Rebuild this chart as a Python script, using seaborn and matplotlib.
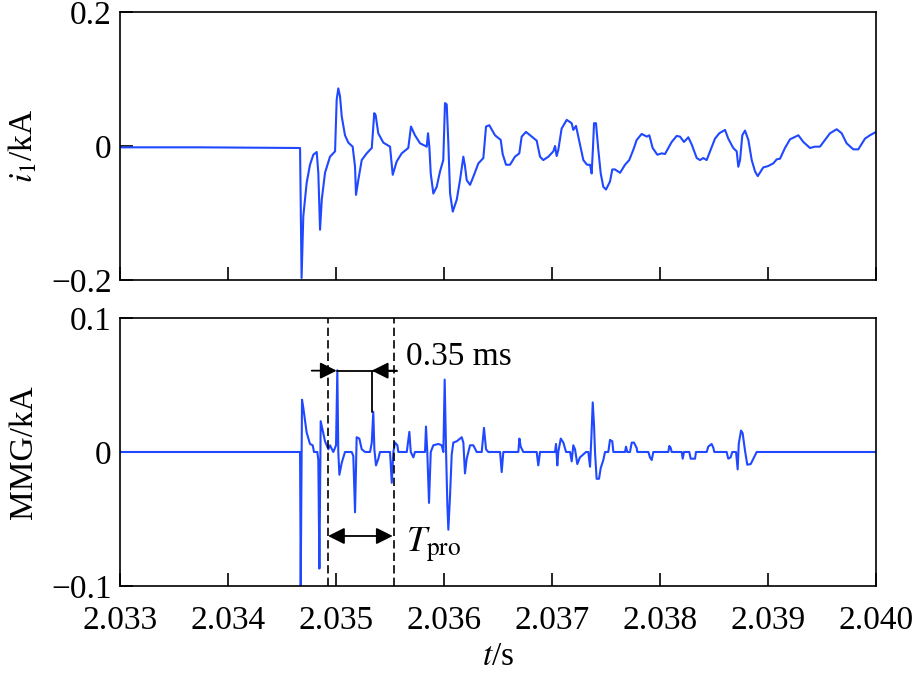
import numpy as np
import pandas as pd
import matplotlib
matplotlib.use("Agg")
import matplotlib.pyplot as plt
import seaborn as sns

# ---------------- data ----------------
t_i1 = [2.033000, 2.033741, 2.034667, 2.034681, 2.034697, 2.034728, 2.034759, 2.034790,
        2.034821, 2.034836, 2.034852, 2.034868, 2.034898, 2.034944, 2.034991, 2.035006,
        2.035021, 2.035037, 2.035053, 2.035083, 2.035114, 2.035154, 2.035176, 2.035185,
        2.035206, 2.035238, 2.035284, 2.035331, 2.035354, 2.035367, 2.035391, 2.035438,
        2.035500, 2.035525, 2.035562, 2.035608, 2.035669, 2.035694, 2.035731, 2.035778,
        2.035840, 2.035852, 2.035864, 2.035877, 2.035901, 2.035932, 2.035963, 2.035993,
        2.036009, 2.036025, 2.036040, 2.036056, 2.036081, 2.036118, 2.036148, 2.036179,
        2.036194, 2.036210, 2.036241, 2.036271, 2.036318, 2.036364, 2.036389, 2.036419,
        2.036472, 2.036525, 2.036543, 2.036574, 2.036611, 2.036657, 2.036697, 2.036719,
        2.036759, 2.036812, 2.036858, 2.036889, 2.036919, 2.036966, 2.037012, 2.037028,
        2.037043, 2.037058, 2.037089, 2.037136, 2.037182, 2.037197, 2.037222, 2.037259,
        2.037290, 2.037324, 2.037352, 2.037367, 2.037380, 2.037389, 2.037407, 2.037429,
        2.037451, 2.037475, 2.037500, 2.037537, 2.037558, 2.037583, 2.037630, 2.037676,
        2.037715, 2.037752, 2.037784, 2.037830, 2.037877, 2.037901, 2.037932, 2.037975,
        2.038016, 2.038046, 2.038108, 2.038154, 2.038185, 2.038222, 2.038262, 2.038294,
        2.038340, 2.038370, 2.038401, 2.038432, 2.038463, 2.038509, 2.038549, 2.038602,
        2.038632, 2.038678, 2.038710, 2.038725, 2.038741, 2.038762, 2.038787, 2.038818,
        2.038849, 2.038880, 2.038905, 2.038956, 2.039000, 2.039049, 2.039080, 2.039111,
        2.039157, 2.039204, 2.039281, 2.039327, 2.039389, 2.039435, 2.039481, 2.039528,
        2.039574, 2.039636, 2.039682, 2.039728, 2.039790, 2.039836, 2.039898, 2.039944,
        2.040000]
i1 = [-0.002, -0.002, -0.003, -0.197, -0.105, -0.055, -0.028, -0.013,
      -0.009, -0.040, -0.125, -0.080, -0.040, -0.016, -0.008, 0.069,
      0.086, 0.074, 0.044, 0.016, 0.005, -0.001, -0.031, -0.073,
      -0.051, -0.021, -0.011, -0.003, 0.049, 0.046, 0.019, 0.005,
      -0.001, -0.043, -0.023, -0.011, -0.003, 0.029, 0.016, 0.004,
      -0.001, 0.019, -0.001, -0.041, -0.071, -0.061, -0.038, -0.021,
      0.064, 0.062, 0.004, -0.071, -0.098, -0.080, -0.051, -0.016,
      -0.030, -0.051, -0.058, -0.046, -0.026, -0.018, 0.029, 0.031,
      0.016, 0.009, -0.012, -0.028, -0.028, -0.016, -0.011, 0.014,
      0.021, 0.014, 0.008, -0.016, -0.021, -0.016, -0.008, 0.000,
      -0.015, -0.006, 0.026, 0.039, 0.034, 0.024, 0.030, 0.002,
      -0.021, -0.028, -0.028, -0.041, 0.000, 0.034, 0.034, -0.006,
      -0.041, -0.061, -0.065, -0.053, -0.035, -0.035, -0.040, -0.028,
      -0.021, -0.006, 0.009, 0.018, 0.014, 0.016, -0.003, -0.013,
      -0.011, -0.012, 0.006, 0.015, 0.014, 0.006, 0.013, 0.002,
      -0.018, -0.021, -0.018, -0.021, -0.008, 0.011, 0.019, 0.024,
      0.011, -0.003, -0.008, -0.031, -0.021, 0.016, 0.023, 0.009,
      -0.021, -0.038, -0.045, -0.032, -0.030, -0.026, -0.020, -0.019,
      -0.003, 0.010, 0.016, 0.006, -0.003, -0.001, -0.001, 0.009,
      0.019, 0.025, 0.019, 0.004, -0.005, -0.005, 0.011, 0.016,
      0.021]

t_mmg = [2.033000, 2.034667, 2.034673, 2.034685, 2.034697, 2.034728, 2.034759, 2.034784,
         2.034796, 2.034827, 2.034836, 2.034846, 2.034858, 2.034877, 2.034898, 2.034929,
         2.034944, 2.034975, 2.035000, 2.035012, 2.035021, 2.035031, 2.035053, 2.035083,
         2.035145, 2.035160, 2.035176, 2.035191, 2.035216, 2.035238, 2.035269, 2.035315,
         2.035331, 2.035345, 2.035355, 2.035370, 2.035392, 2.035407, 2.035500, 2.035516,
         2.035531, 2.035546, 2.035568, 2.035577, 2.035655, 2.035679, 2.035692, 2.035716,
         2.035731, 2.035824, 2.035833, 2.035845, 2.035861, 2.035877, 2.035901, 2.035947,
         2.035978, 2.035994, 2.036006, 2.036019, 2.036031, 2.036040, 2.036056, 2.036071,
         2.036086, 2.036118, 2.036164, 2.036179, 2.036194, 2.036210, 2.036241, 2.036271,
         2.036303, 2.036349, 2.036370, 2.036389, 2.036410, 2.036519, 2.036534, 2.036549,
         2.036688, 2.036698, 2.036710, 2.036734, 2.036858, 2.036873, 2.036889, 2.037028,
         2.037037, 2.037049, 2.037058, 2.037081, 2.037105, 2.037130, 2.037167, 2.037182,
         2.037197, 2.037213, 2.037234, 2.037259, 2.037315, 2.037336, 2.037352, 2.037364,
         2.037377, 2.037389, 2.037398, 2.037413, 2.037435, 2.037451, 2.037475, 2.037491,
         2.037521, 2.037537, 2.037558, 2.037568, 2.037676, 2.037685, 2.037697, 2.037722,
         2.037738, 2.037759, 2.037784, 2.037790, 2.037892, 2.037907, 2.037923, 2.037938,
         2.038077, 2.038086, 2.038099, 2.038108, 2.038201, 2.038210, 2.038222, 2.038271,
         2.038284, 2.038324, 2.038333, 2.038432, 2.038447, 2.038478, 2.038494, 2.038503,
         2.038617, 2.038632, 2.038654, 2.038669, 2.038704, 2.038719, 2.038729, 2.038750,
         2.038765, 2.038787, 2.038808, 2.038840, 2.038870, 2.038895, 2.040000]
mmg = [0.000, 0.000, -0.100, 0.039, 0.033, 0.0145, 0.006, 0.005,
       0.000, 0.000, -0.006, -0.087, 0.023, 0.016, 0.008, 0.002,
       0.005, 0.000, 0.005, 0.061, 0.000, -0.017, -0.008, 0.000,
       0.000, -0.003, -0.045, 0.011, 0.010, 0.002, 0.000, 0.000,
       0.007, 0.030, 0.002, -0.010, -0.005, 0.000, 0.000, -0.023,
       0.000, 0.007, 0.005, 0.000, 0.000, 0.015, 0.000, -0.004,
       0.000, 0.000, 0.019, 0.000, -0.038, 0.000, 0.005, 0.006,
       0.005, 0.000, 0.054, 0.000, -0.040, -0.058, -0.032, -0.002,
       0.007, 0.008, 0.011, 0.007, -0.016, -0.005, 0.005, 0.005,
       0.000, 0.000, 0.018, 0.002, 0.000, 0.000, -0.015, 0.000,
       0.000, 0.010, 0.004, 0.000, 0.000, -0.010, 0.000, 0.000,
       0.006, -0.010, 0.000, 0.010, 0.007, 0.000, 0.000, -0.007,
       0.005, 0.002, -0.009, -0.004, 0.000, 0.000, -0.011, 0.010,
       0.037, 0.020, 0.000, -0.020, -0.020, -0.012, -0.006, 0.000,
       0.000, 0.009, 0.008, 0.000, 0.000, 0.004, 0.000, 0.000,
       0.007, 0.007, 0.003, 0.000, 0.000, -0.004, -0.006, 0.000,
       0.000, 0.0045, 0.003, 0.000, 0.000, -0.005, 0.000, 0.000,
       -0.005, -0.005, 0.000, 0.000, 0.004, 0.006, 0.003, 0.000,
       0.000, -0.005, -0.004, 0.000, 0.000, -0.013, 0.006, 0.016,
       0.014, 0.001, -0.0095, -0.009, -0.004, 0.000, 0.000]

x_ticks = [2.033, 2.034, 2.035, 2.036, 2.037, 2.038, 2.039, 2.040]
x_ticklabels = ["2.033", "2.034", "2.035", "2.036", "2.037", "2.038", "2.039", "2.040"]
y1_ticks = [-0.2, 0.0, 0.2]
y1_ticklabels = ["\u22120.2", "0", "0.2"]
y2_ticks = [-0.1, 0.0, 0.1]
y2_ticklabels = ["\u22120.1", "0", "0.1"]

# annotation values
t_dash = [2.034926, 2.035540]
t_span_left, t_span_right = 2.034775, 2.035562
t_peak1, t_peak2 = 2.035006, 2.035331
v_span, v_peak2 = 0.0607, 0.030
t_pro_left, t_pro_right = 2.034926, 2.035525
v_pro = -0.0627
t_text = 2.035648
v_text1, v_text2 = 0.0647, -0.0748

# ---------------- style ----------------
sns.set_style("white")
plt.rcParams["font.family"] = ["Liberation Serif", "DejaVu Serif"]
plt.rcParams["mathtext.fontset"] = "stix"
plt.rcParams["text.color"] = "black"
plt.rcParams["axes.labelcolor"] = "black"
plt.rcParams["xtick.color"] = "black"
plt.rcParams["ytick.color"] = "black"
plt.rcParams["axes.linewidth"] = 1.2
plt.rcParams["axes.edgecolor"] = "black"

FS = 24
blue = "#1f48ff"

fig = plt.figure(figsize=(9.17, 6.74), dpi=100)
ax1 = fig.add_axes([0.1309, 0.5846, 0.8244, 0.3976])
ax2 = fig.add_axes([0.1309, 0.1306, 0.8244, 0.3976])

df1 = pd.DataFrame({"t": t_i1, "v": i1})
df2 = pd.DataFrame({"t": t_mmg, "v": mmg})
sns.lineplot(data=df1, x="t", y="v", ax=ax1, color=blue, lw=1.5,
             estimator=None, sort=False)
sns.lineplot(data=df2, x="t", y="v", ax=ax2, color=blue, lw=1.5,
             estimator=None, sort=False)

for ax, yt, ytl, ylim in [(ax1, y1_ticks, y1_ticklabels, (-0.2, 0.2)),
                          (ax2, y2_ticks, y2_ticklabels, (-0.1, 0.1))]:
    ax.set_xlim(2.033, 2.040)
    ax.set_ylim(*ylim)
    ax.set_xticks(x_ticks)
    ax.set_yticks(yt)
    ax.set_yticklabels(ytl, fontsize=FS, color="black")
    ax.tick_params(direction="in", length=9.4, width=1.2, colors="black",
                   bottom=True, left=True, top=False, right=False, pad=6)
    for s in ax.spines.values():
        s.set_visible(True)
        s.set_color("black")
        s.set_linewidth(1.2)

ax1.set_xticklabels([])
ax1.set_xlabel("")
ax2.set_xticklabels(x_ticklabels, fontsize=FS, color="black")
ax2.tick_params(axis="x", pad=14)

ax1.set_ylabel(r"$i_1$/kA", fontsize=FS, color="black")
ax2.set_ylabel("MMG/kA", fontsize=FS, color="black")
ax1.yaxis.set_label_coords(-0.107, 0.5)
ax2.yaxis.set_label_coords(-0.107, 0.5)
ax2.set_xlabel(r"$t$/s", fontsize=FS, labelpad=4, color="black")

# dashed lines
for td in t_dash:
    ax2.axvline(td, color="black", lw=1.2, ls=(0, (5, 2.5)))

# 0.35 ms marker
ax2.plot([t_peak1, t_span_right], [v_span, v_span], color="black", lw=1.3)
ax2.plot([t_peak2, t_peak2], [v_span, v_peak2], color="black", lw=1.3)
ax2.annotate("", xy=(t_peak1, v_span), xytext=(t_span_left, v_span),
             arrowprops=dict(arrowstyle="-|>", color="black", lw=1.3,
                             mutation_scale=25, shrinkA=0, shrinkB=0))
ax2.annotate("", xy=(t_peak2, v_span), xytext=(t_span_right, v_span),
             arrowprops=dict(arrowstyle="-|>", color="black", lw=1.3,
                             mutation_scale=25, shrinkA=0, shrinkB=0))
ax2.text(t_text, v_text1, "0.35 ms", fontsize=FS, va="baseline", ha="left",
         color="black")

# T_pro marker
ax2.annotate("", xy=(t_pro_right, v_pro), xytext=(t_pro_left, v_pro),
             arrowprops=dict(arrowstyle="<|-|>", color="black", lw=1.3,
                             mutation_scale=25, shrinkA=0, shrinkB=0))
ax2.text(t_text, v_text2, r"$T_{\mathrm{pro}}$", fontsize=FS + 2, va="baseline",
         ha="left", color="black")

fig.savefig("out.png", dpi=100)
